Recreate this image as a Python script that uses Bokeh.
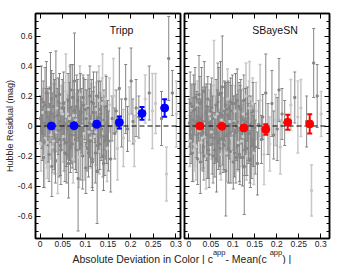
import math
from bokeh.plotting import figure
from bokeh.models import (ColumnDataSource, Whisker, TeeHead, LinearAxis, Range1d,
                          Span, Label, FixedTicker)
from bokeh.layouts import column, row
from bokeh.embed import file_html
from bokeh.resources import INLINE

FONT = "Liberation Sans"

# ---------------- data ----------------
x_ticks = [0, 0.05, 0.1, 0.15, 0.2, 0.25, 0.3]
x_tick_labels = ["0", "0.05", "0.1", "0.15", "0.2", "0.25", "0.3"]
y_ticks = [-0.6, -0.4, -0.2, 0, 0.2, 0.4, 0.6]
y_tick_labels = ["-0.6", "-0.4", "-0.2", "0", "0.2", "0.4", "0.6"]
y_minor = [round(-0.75 + 0.05 * i, 2) for i in range(31)]

panel_titles = ["Tripp", "SBayeSN"]

x_abs_a = [
    0.001, 0.002, 0.003, 0.004, 0.006, 0.008, 0.009, 0.011, 0.012, 0.014,
    0.015, 0.017, 0.018, 0.019, 0.020, 0.021, 0.023, 0.024, 0.026, 0.027,
    0.029, 0.030, 0.032, 0.033, 0.035, 0.036, 0.038, 0.039, 0.041, 0.042,
    0.044, 0.045, 0.047, 0.048, 0.049, 0.051, 0.052, 0.054, 0.055, 0.057,
    0.058, 0.060, 0.061, 0.062, 0.063, 0.064, 0.066, 0.067, 0.069, 0.070,
    0.072, 0.073, 0.075, 0.076, 0.078, 0.079, 0.080, 0.081, 0.082, 0.084,
    0.085, 0.087, 0.088, 0.090, 0.091, 0.093, 0.094, 0.096, 0.097, 0.099,
    0.101, 0.103, 0.104, 0.106, 0.108, 0.110, 0.111, 0.113, 0.115, 0.117,
    0.118, 0.120, 0.121, 0.122, 0.124, 0.126, 0.128, 0.130, 0.132, 0.134,
    0.136, 0.138, 0.140, 0.142, 0.144, 0.146, 0.148, 0.149, 0.151, 0.153,
    0.156, 0.159, 0.162, 0.165, 0.168, 0.171, 0.175, 0.180, 0.184, 0.189,
    0.193, 0.197, 0.201, 0.205, 0.208, 0.212, 0.218, 0.232, 0.241, 0.248,
    0.255, 0.268, 0.279, 0.284, 0.292, 0.301,
]
x_abs_b = [
    0.005, 0.007, 0.010, 0.013, 0.016, 0.022, 0.025, 0.028, 0.031, 0.034,
    0.037, 0.040, 0.043, 0.046, 0.050, 0.053, 0.056, 0.059, 0.065, 0.068,
    0.071, 0.074, 0.077, 0.083, 0.086, 0.089, 0.092, 0.095, 0.098, 0.102,
    0.105, 0.107, 0.109, 0.112, 0.114, 0.116, 0.119, 0.123, 0.125, 0.127,
    0.129, 0.131, 0.133, 0.135, 0.137, 0.139, 0.141, 0.143, 0.145, 0.147,
]

tripp_y_a = [
    0.05, -0.12, 0.18, -0.03, 0.09, -0.21, 0.02, 0.14, -0.08, 0.22,
    -0.15, 0.06, -0.01, 0.11, -0.19, 0.04, 0.25, -0.06, -0.27, 0.08,
    0.13, -0.10, 0.01, -0.17, 0.20, -0.04, 0.07, -0.24, 0.16, -0.09,
    0.03, -0.13, 0.10, -0.02, 0.12, -0.07, 0.15, 0.02, -0.18, 0.23,
    -0.11, 0.08, -0.02, 0.17, -0.25, 0.05, 0.12, -0.14, 0.01, -0.06,
    0.19, -0.22, 0.10, 0.30, -0.09, 0.04, -0.16, 0.13, 0.07, -0.35,
    0.07, -0.03, 0.21, -0.12, 0.09, 0.00, -0.20, 0.14, -0.05, 0.11,
    -0.28, 0.06, -0.15, 0.12, -0.04, 0.20, -0.10, 0.03, -0.22, 0.09,
    0.15, -0.07, 0.01, -0.18, 0.11, -0.30, 0.05, 0.17, -0.12, 0.08,
    -0.02, 0.22, -0.25, 0.04, -0.09, 0.13, -0.15, 0.02, -0.10, 0.14,
    -0.22, 0.05, 0.20, -0.05, 0.10, -0.15, 0.25, 0.02, -0.08, 0.18,
    -0.02, 0.08, 0.30, 0.03, -0.10, 0.12, 0.06, 0.18, 0.22, 0.10,
    0.15, 0.05, -0.32, 0.45, 0.22, 0.08,
]
tripp_y_b = [
    -0.05, 0.16, -0.20, 0.09, -0.11, 0.02, 0.18, -0.14, 0.06, -0.23,
    0.12, -0.03, 0.21, -0.16, 0.08, -0.09, 0.14, -0.19, 0.03, 0.24,
    -0.12, 0.07, -0.06, 0.17, -0.21, 0.10, -0.01, 0.19, -0.15, 0.05,
    0.13, -0.18, 0.02, -0.08, 0.16, -0.24, 0.09, -0.04, 0.20, -0.13,
    0.06, -0.17, 0.11, -0.02, 0.15, -0.20, 0.04, -0.10, 0.18, -0.07,
]
tripp_err_a = [
    0.15, 0.18, 0.22, 0.12, 0.16, 0.20, 0.14, 0.25, 0.17, 0.21,
    0.13, 0.19, 0.23, 0.15, 0.18, 0.11, 0.24, 0.16, 0.20, 0.14,
    0.22, 0.17, 0.30, 0.15, 0.30, 0.13, 0.18, 0.21, 0.16, 0.25,
    0.12, 0.20, 0.17, 0.14, 0.19, 0.17, 0.21, 0.14, 0.19, 0.25,
    0.16, 0.13, 0.20, 0.18, 0.23, 0.15, 0.28, 0.17, 0.12, 0.19,
    0.22, 0.16, 0.14, 0.32, 0.20, 0.18, 0.15, 0.21, 0.17, 0.35,
    0.17, 0.13, 0.19, 0.24, 0.16, 0.14, 0.22, 0.18, 0.15, 0.20,
    0.17, 0.18, 0.15, 0.22, 0.13, 0.20, 0.17, 0.25, 0.19, 0.14,
    0.21, 0.16, 0.12, 0.20, 0.18, 0.35, 0.15, 0.23, 0.17, 0.14,
    0.19, 0.26, 0.18, 0.16, 0.13, 0.20, 0.22, 0.15, 0.20, 0.18,
    0.22, 0.15, 0.25, 0.17, 0.14, 0.21, 0.27, 0.16, 0.19, 0.23,
    0.15, 0.18, 0.22, 0.15, 0.17, 0.19, 0.14, 0.16, 0.18, 0.25,
    0.20, 0.18, 0.18, 0.28, 0.15, 0.22,
]
tripp_err_b = [
    0.18, 0.14, 0.21, 0.16, 0.24, 0.13, 0.19, 0.17, 0.22, 0.15,
    0.20, 0.16, 0.14, 0.23, 0.18, 0.21, 0.15, 0.19, 0.26, 0.17,
    0.16, 0.22, 0.18, 0.14, 0.20, 0.25, 0.17, 0.15, 0.21, 0.19,
    0.18, 0.16, 0.23, 0.20, 0.15, 0.19, 0.17, 0.22, 0.16, 0.18,
    0.24, 0.15, 0.19, 0.21, 0.17, 0.14, 0.20, 0.23, 0.16, 0.18,
]

sbs_y_a = [
    0.02, -0.10, 0.15, -0.06, 0.12, -0.18, 0.04, 0.10, -0.12, 0.19,
    -0.13, 0.03, 0.01, 0.14, -0.22, 0.06, 0.21, -0.03, -0.24, 0.05,
    0.16, -0.08, -0.02, -0.14, 0.23, -0.07, 0.09, -0.20, 0.13, -0.11,
    0.00, -0.16, 0.08, 0.02, 0.10, -0.04, 0.12, 0.05, -0.20, 0.27,
    -0.08, 0.06, -0.05, 0.14, -0.22, 0.08, 0.16, -0.11, -0.02, -0.09,
    0.22, -0.19, 0.07, 0.26, -0.12, 0.02, -0.13, 0.10, 0.11, -0.30,
    0.11, -0.06, 0.18, -0.15, 0.12, 0.03, -0.17, 0.10, -0.08, 0.15,
    -0.24, 0.03, -0.18, 0.15, -0.01, 0.17, -0.13, 0.00, -0.19, 0.12,
    0.11, -0.10, 0.04, -0.21, 0.08, -0.27, 0.02, 0.20, -0.15, 0.05,
    -0.05, 0.18, -0.22, 0.01, -0.12, 0.10, -0.18, -0.01, -0.14, 0.10,
    -0.25, 0.01, 0.17, -0.09, 0.06, -0.19, 0.22, -0.02, -0.12, 0.15,
    -0.06, 0.04, -0.02, 0.24, -0.14, 0.08, 0.02, 0.14, 0.19, 0.06,
    0.12, 0.03, -0.43, 0.42, 0.20, 0.08,
]
sbs_y_b = [
    -0.08, 0.13, -0.17, 0.11, -0.14, 0.04, 0.15, -0.11, 0.03, -0.20,
    0.09, -0.06, 0.18, -0.19, 0.05, -0.12, 0.11, -0.16, 0.00, 0.21,
    -0.15, 0.04, -0.09, 0.14, -0.18, 0.07, -0.04, 0.16, -0.18, 0.02,
    0.10, -0.21, -0.01, -0.11, 0.13, -0.21, 0.06, -0.07, 0.17, -0.16,
    0.03, -0.20, 0.08, -0.05, 0.12, -0.23, 0.01, -0.13, 0.15, -0.10,
]
sbs_err_a = [
    0.16, 0.17, 0.21, 0.13, 0.15, 0.19, 0.15, 0.24, 0.18, 0.20,
    0.14, 0.18, 0.22, 0.16, 0.17, 0.12, 0.26, 0.15, 0.21, 0.13,
    0.23, 0.16, 0.28, 0.14, 0.20, 0.14, 0.17, 0.22, 0.15, 0.24,
    0.13, 0.19, 0.16, 0.15, 0.18, 0.18, 0.20, 0.15, 0.18, 0.30,
    0.17, 0.14, 0.19, 0.17, 0.22, 0.16, 0.26, 0.18, 0.13, 0.18,
    0.21, 0.17, 0.15, 0.34, 0.19, 0.17, 0.16, 0.20, 0.18, 0.30,
    0.18, 0.14, 0.20, 0.23, 0.17, 0.15, 0.21, 0.17, 0.16, 0.19,
    0.18, 0.17, 0.16, 0.20, 0.14, 0.21, 0.16, 0.24, 0.18, 0.15,
    0.20, 0.17, 0.13, 0.19, 0.17, 0.32, 0.16, 0.22, 0.18, 0.15,
    0.18, 0.25, 0.19, 0.15, 0.14, 0.19, 0.21, 0.16, 0.18, 0.19,
    0.21, 0.16, 0.24, 0.16, 0.15, 0.20, 0.26, 0.17, 0.18, 0.22,
    0.16, 0.17, 0.21, 0.21, 0.18, 0.17, 0.15, 0.17, 0.17, 0.24,
    0.19, 0.17, 0.17, 0.23, 0.21, 0.15,
]
sbs_err_b = [
    0.17, 0.15, 0.20, 0.17, 0.22, 0.14, 0.18, 0.18, 0.21, 0.16,
    0.19, 0.17, 0.15, 0.22, 0.17, 0.20, 0.16, 0.18, 0.24, 0.18,
    0.17, 0.21, 0.17, 0.15, 0.19, 0.23, 0.18, 0.16, 0.20, 0.18,
    0.17, 0.17, 0.22, 0.19, 0.16, 0.18, 0.18, 0.21, 0.17, 0.17,
    0.22, 0.16, 0.18, 0.20, 0.18, 0.15, 0.19, 0.22, 0.17, 0.17,
]

# 1 = light grey subsample, 0 = dark grey subsample
shade_a = [
    0, 1, 0, 0, 1, 0, 0, 0, 1, 0,
    1, 0, 0, 1, 0, 0, 0, 1, 0, 0,
    0, 1, 0, 0, 0, 1, 0, 1, 0, 0,
    0, 0, 1, 0, 0, 1, 0, 0, 0, 1,
    0, 1, 0, 0, 0, 1, 0, 0, 1, 0,
    0, 1, 0, 0, 0, 1, 0, 0, 1, 0,
    0, 0, 1, 0, 0, 1, 0, 0, 1, 0,
    0, 1, 0, 0, 1, 0, 0, 1, 0, 0,
    0, 1, 0, 0, 1, 0, 0, 1, 0, 0,
    0, 1, 0, 1, 0, 0, 1, 0, 0, 1,
    0, 0, 1, 0, 0, 1, 0, 0, 1, 0,
    0, 1, 0, 0, 1, 0, 0, 1, 0, 1,
    1, 0, 1, 0, 0, 1,
]
shade_b = [
    0, 0, 1, 0, 1, 0, 0, 1, 0, 0,
    1, 0, 0, 0, 1, 0, 1, 0, 0, 0,
    0, 1, 0, 0, 1, 0, 0, 0, 1, 0,
    1, 0, 0, 1, 0, 0, 0, 1, 0, 0,
    0, 1, 0, 0, 1, 0, 0, 0, 1, 0,
]

bin_x = [0.025, 0.075, 0.125, 0.175, 0.225, 0.275]
tripp_bin_y = [0.0, 0.002, 0.012, 0.024, 0.084, 0.12]
tripp_bin_err = [0.012, 0.012, 0.02, 0.04, 0.043, 0.058]
sbs_bin_y = [0.0, -0.002, -0.013, -0.023, 0.025, 0.014]
sbs_bin_err = [0.012, 0.012, 0.018, 0.035, 0.05, 0.064]

# ---------------- tables built from the lists ----------------
x_abs = x_abs_a + x_abs_b
shade = shade_a + shade_b
tripp_y = tripp_y_a + tripp_y_b
tripp_err = tripp_err_a + tripp_err_b
sbs_y = sbs_y_a + sbs_y_b
sbs_err = sbs_err_a + sbs_err_b

X_OVR = dict(zip(x_ticks, x_tick_labels))
Y_OVR = dict(zip(y_ticks, y_tick_labels))


def style_axis(ax, is_x, show_labels):
    if is_x:
        ax.ticker = FixedTicker(ticks=x_ticks, minor_ticks=[])
        ax.major_label_overrides = X_OVR
    else:
        ax.ticker = FixedTicker(ticks=y_ticks, minor_ticks=y_minor)
        ax.major_label_overrides = Y_OVR
    ax.axis_line_color = "black"
    ax.axis_line_width = 1.5
    ax.major_tick_line_color = "black"
    ax.minor_tick_line_color = "black"
    ax.major_tick_line_width = 1
    ax.minor_tick_line_width = 1
    ax.major_tick_in = 5
    ax.major_tick_out = 0
    ax.minor_tick_in = 3
    ax.minor_tick_out = 0
    ax.major_label_text_font = FONT
    if show_labels:
        ax.major_label_text_color = "#222222"
        ax.major_label_text_font_size = "8.5px"
        ax.major_label_standoff = 2 if is_x else 3
    else:
        ax.major_label_text_color = None
        ax.major_label_text_font_size = "0px"
        ax.major_label_standoff = 0


def make_panel(xr, y, err, by, berr, bcolor, title, title_x, show_ylabels, bl, br):
    p = figure(width=bl + 145 + br, height=250,
               x_range=Range1d(*xr), y_range=Range1d(-0.75, 0.75),
               output_backend="svg", toolbar_location=None,
               min_border_left=bl, min_border_right=br,
               min_border_top=13, min_border_bottom=12,
               background_fill_color="white", border_fill_color="white",
               outline_line_color="black", outline_line_width=1.5)
    p.grid.visible = False
    p.add_layout(LinearAxis(), "above")
    p.add_layout(LinearAxis(), "right")
    style_axis(p.below[0], True, True)
    style_axis(p.above[0], True, False)
    style_axis(p.left[0], False, show_ylabels)
    style_axis(p.right[0], False, False)

    for sval, col, lw in [(1, "#c8c8c8", 1.5), (0, "#858585", 1)]:
        idx = [i for i, s in enumerate(shade) if s == sval]
        src = ColumnDataSource(dict(
            x=[x_abs[i] for i in idx],
            y=[y[i] for i in idx],
            lo=[y[i] - err[i] for i in idx],
            up=[y[i] + err[i] for i in idx],
        ))
        p.add_layout(Whisker(source=src, base="x", lower="lo", upper="up",
                             dimension="height", line_color=col, line_width=lw,
                             upper_head=TeeHead(size=3, line_color=col, line_width=lw),
                             lower_head=TeeHead(size=3, line_color=col, line_width=lw)))
        p.scatter("x", "y", source=src, marker="square", size=2,
                  fill_color=col, line_color=col)

    p.add_layout(Span(location=0, dimension="width", line_color="black",
                      line_width=1.2, line_dash="5 3"))

    bsrc = ColumnDataSource(dict(
        x=bin_x, y=by,
        lo=[a - b for a, b in zip(by, berr)],
        up=[a + b for a, b in zip(by, berr)],
    ))
    p.add_layout(Whisker(source=bsrc, base="x", lower="lo", upper="up",
                         dimension="height", line_color=bcolor, line_width=2,
                         upper_head=TeeHead(size=5, line_color=bcolor, line_width=2),
                         lower_head=TeeHead(size=5, line_color=bcolor, line_width=2),
                         level="overlay"))
    p.scatter("x", "y", source=bsrc, marker="circle", size=8,
              fill_color=bcolor, line_color=bcolor, level="overlay")

    p.add_layout(Label(x=title_x, y=0.64, text=title, text_align="center",
                       text_baseline="alphabetic", text_font=FONT,
                       text_font_size="10.5px", text_color="#111111"))
    return p


p1 = make_panel((-0.01, 0.31), tripp_y, tripp_err, tripp_bin_y, tripp_bin_err,
                "#0000ff", panel_titles[0], 0.18, True, 35, 2)
p2 = make_panel((-0.01, 0.32), sbs_y, sbs_err, sbs_bin_y, sbs_bin_err,
                "#ff0000", panel_titles[1], 0.196, False, 2, 2)

# y-axis title
ax = p1.left[0]
ax.axis_label = "Hubble Residual (mag)"
ax.axis_label_text_font = FONT
ax.axis_label_text_font_size = "9px"
ax.axis_label_text_font_style = "normal"
ax.axis_label_text_color = "#222222"
ax.axis_label_standoff = 0

# x-axis title spanning both panels (with superscripts)
p3 = figure(width=331, height=22, x_range=Range1d(0, 1), y_range=Range1d(0, 1),
            output_backend="svg", toolbar_location=None,
            x_axis_location=None, y_axis_location=None,
            min_border=0, outline_line_color=None,
            background_fill_color=None, border_fill_color=None)
p3.grid.visible = False
p3.margin = (-8, 0, 0, 0)

pieces = [
    ("Absolute Deviation in Color | c", 72.0, 6, "10.5px"),
    ("app", 212.4, 12.5, "7.5px"),
    (" - Mean(c", 224.9, 6, "10.5px"),
    ("app", 269.2, 12.5, "7.5px"),
    (") |", 281.7, 6, "10.5px"),
]
for txt, xs, ys, fs in pieces:
    p3.add_layout(Label(x=xs, y=ys, x_units="screen", y_units="screen", text=txt,
                        text_align="left", text_baseline="alphabetic",
                        text_font=FONT, text_font_size=fs, text_color="#222222"))

layout = column(row(p1, p2), p3)

open("out.html", "w").write(file_html(layout, INLINE))
